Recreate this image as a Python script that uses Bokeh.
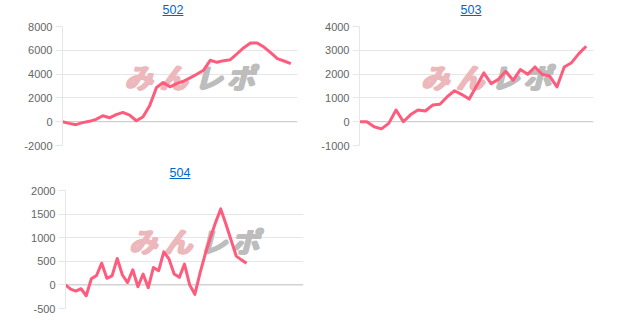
from bokeh.plotting import figure
from bokeh.models import Div, Span, Label, FixedTicker, Range1d
from bokeh.layouts import row, column
from bokeh.embed import file_html
from bokeh.resources import INLINE

# ---- data ----
titles = ["502", "503", "504"]

label_count_502 = 36
values_502 = [0, -140, -250, -80, 30, 200, 500, 330, 590, 780, 560, 80, 420, 1370, 2870,
              3290, 2930, 3200, 3400, 3680, 3990, 4320, 5160, 4990, 5130, 5210, 5710, 6220,
              6610, 6610, 6270, 5800, 5300, 5100, 4880]
ticks_502 = [-2000, 0, 2000, 4000, 6000, 8000]
tick_labels_502 = ["-2000", "0", "2000", "4000", "6000", "8000"]

label_count_503 = 33
values_503 = [0, 0, -210, -300, -70, 490, 0, 300, 490, 450, 700, 730, 1050, 1300, 1140, 950,
              1500, 2050, 1600, 1780, 2120, 1740, 2190, 1990, 2300, 1980, 1920, 1460, 2300,
              2480, 2860, 3170]
ticks_503 = [-1000, 0, 1000, 2000, 3000, 4000]
tick_labels_503 = ["-1000", "0", "1000", "2000", "3000", "4000"]

label_count_504 = 47
values_504 = [0, -90, -130, -80, -230, 130, 200, 460, 140, 190, 560, 210, 50, 320, -40, 230,
              -60, 370, 300, 700, 550, 230, 160, 440, 0, -200, 250, 650, 1000, 1320, 1610,
              1290, 950, 610, 530, 460]
ticks_504 = [-500, 0, 500, 1000, 1500, 2000]
tick_labels_504 = ["-500", "0", "500", "1000", "1500", "2000"]

LINE = "#ff5b7c"
GRID = "#e6e6e6"
ZERO = "#c8c8c8"


def make_chart(vals, n_labels, ticks, tick_labels, width, height, bl, br, bt, bb):
    ymin, ymax = ticks[0], ticks[-1]
    xmin, xmax = 0, n_labels - 1
    p = figure(width=width, height=height, output_backend="svg", toolbar_location=None,
               x_range=Range1d(xmin, xmax), y_range=Range1d(ymin, ymax),
               x_axis_location=None,
               min_border_left=bl, min_border_right=br, min_border_top=bt, min_border_bottom=bb)
    p.outline_line_color = None
    p.background_fill_color = "white"
    p.border_fill_color = "white"
    p.xgrid.visible = False
    p.ygrid.grid_line_color = GRID
    p.ygrid.grid_line_width = 1
    ax = p.yaxis[0]
    ax.ticker = FixedTicker(ticks=ticks)
    ax.major_label_overrides = {t: l for t, l in zip(ticks, tick_labels)}
    ax.axis_line_color = GRID
    ax.major_tick_line_color = GRID
    ax.major_tick_out = 7
    ax.major_tick_in = 0
    ax.minor_tick_line_color = None
    ax.major_label_standoff = 3
    ax.major_label_text_font = "Liberation Sans"
    ax.major_label_text_font_size = "11px"
    ax.major_label_text_color = "#666666"

    p.add_layout(Span(location=0, dimension="width", line_color=ZERO, line_width=1, level="underlay"))

    # watermark logo (drawn several times with 1px shifts to make it heavy)
    xc = xmin + 0.537 * (xmax - xmin)
    yc = ymin + 0.573 * (ymax - ymin)
    for ch, off, col in [("み", -50, "#ecb8bc"), ("ん", -15, "#ecb8bc"),
                         ("レ", 20, "#bdbdbd"), ("ポ", 52, "#bdbdbd")]:
        for dx, dy in [(-1, 0), (0, 0), (1, 0), (0, 1), (1, 1), (-1, 1)]:
            p.add_layout(Label(x=xc, y=yc, text=ch, x_offset=off + dx, y_offset=dy,
                               text_align="center", text_baseline="middle",
                               text_font="Noto Sans CJK JP", text_font_size="28px",
                               text_font_style="bold italic", text_color=col,
                               level="underlay"))

    p.line(list(range(len(vals))), vals, line_color=LINE, line_width=3, line_join="round")
    return p


def make_title(text, width, pad_left):
    html = ('<div style="width:%dpx;height:20px;line-height:20px;text-align:center;'
            'padding-left:%dpx;box-sizing:border-box;">'
            '<a href="#" style="color:#0066cc;text-decoration:underline;'
            'font-family:\'Liberation Sans\',Arial,sans-serif;font-size:12.5px;">%s</a></div>'
            % (width, pad_left, text))
    return Div(text=html, width=width, height=20, margin=0)


p1 = make_chart(values_502, label_count_502, ticks_502, tick_labels_502, 314, 143, 62, 17, 6, 18)
p2 = make_chart(values_503, label_count_503, ticks_503, tick_labels_503, 314, 143, 45, 35, 6, 18)
p3 = make_chart(values_504, label_count_504, ticks_504, tick_labels_504, 314, 148, 65, 11, 7, 23)

d1 = make_title(titles[0], 314, 32)
d2 = make_title(titles[1], 314, 0)
d3 = make_title(titles[2], 314, 46)

layout = column(row(column(d1, p1, spacing=0), column(d2, p2, spacing=0), spacing=0),
                column(d3, p3, spacing=0), spacing=0)

open("out.html", "w").write(file_html(layout, INLINE))
